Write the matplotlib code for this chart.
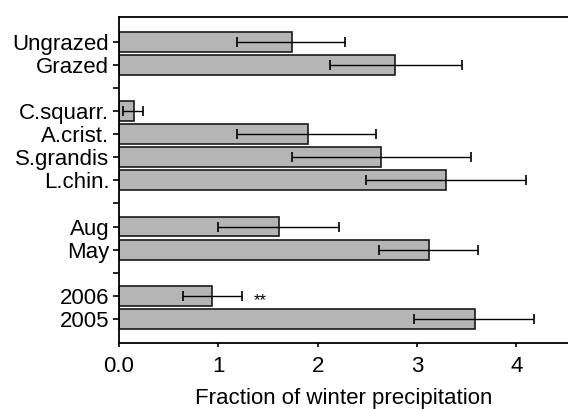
import matplotlib
matplotlib.use('Agg')
import matplotlib.pyplot as plt

plt.rcParams['font.family'] = ['Liberation Sans', 'DejaVu Sans']

# categories, top to bottom in the figure
labels = ['Ungrazed', 'Grazed', '', 'C.squarr.', 'A.crist.', 'S.grandis', 'L.chin.',
          '', 'Aug', 'May', '', '2006', '2005']
values = [1.74, 2.78, None, 0.15, 1.90, 2.64, 3.29, None, 1.61, 3.12, None, 0.94, 3.58]
err_low = [1.19, 2.12, None, 0.04, 1.19, 1.74, 2.49, None, 1.00, 2.62, None, 0.64, 2.97]
err_high = [2.28, 3.45, None, 0.24, 2.59, 3.54, 4.10, None, 2.21, 3.61, None, 1.24, 4.18]

n = len(labels)
ypos = [n - 1 - i for i in range(n)]

fig = plt.figure(figsize=(5.68, 4.09), dpi=100)
ax = fig.add_axes([0.2095, 0.161, 0.7905, 0.797])

ys, xs, lo, hi = [], [], [], []
for y, v, l, h in zip(ypos, values, err_low, err_high):
    if v is None:
        continue
    ys.append(y)
    xs.append(v)
    lo.append(v - l)
    hi.append(h - v)

ax.barh(ys, xs, height=0.86, color='#b5b5b5', edgecolor='#1a1a1a', linewidth=1.2)
ax.errorbar(xs, ys, xerr=[lo, hi], fmt='none', ecolor='black', elinewidth=1.0,
            capsize=3.5, capthick=1.2)

# significance mark next to 2006
ax.text(1.42, ypos[11] - 0.2, '**', ha='center', va='center', fontsize=12)

ax.set_yticks(ypos)
ax.set_yticklabels(labels, fontsize=16)
ax.set_ylim(-1.05, n - 1 + 1.07)
ax.set_xlim(0, 4.52)
ax.set_xticks([0, 1, 2, 3, 4])
ax.set_xticklabels(['0.0', '1', '2', '3', '4'], fontsize=16)
ax.set_xlabel('Fraction of winter precipitation', fontsize=16, labelpad=8)

ax.spines['right'].set_visible(False)
for s in ['left', 'bottom', 'top']:
    ax.spines[s].set_linewidth(1.3)
ax.tick_params(axis='y', length=4, width=1.2, pad=3)
ax.tick_params(axis='x', length=3, width=1.2, pad=6)

fig.savefig('out.png', dpi=100)
